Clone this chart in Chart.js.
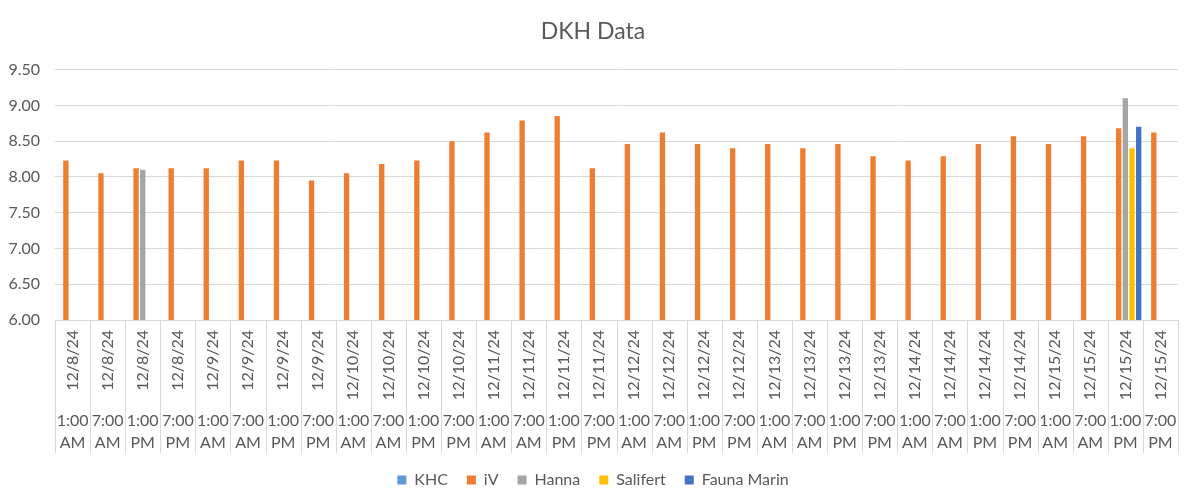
<!DOCTYPE html>
<html lang="en">
<head>
    <meta charset="UTF-8">
    <title>DKH Data</title>
    <script src="https://cdn.jsdelivr.net/npm/chart.js"></script>
    <style>
        html, body { margin: 0; padding: 0; background: #ffffff; }
        #wrap { width: 1200px; height: 504px; }
    </style>
</head>
<body>
    <div id="wrap"><canvas id="dkhChart"></canvas></div>

    <script>
        // category labels (two-level axis: date / time)
        const dateLabels = [
            '12/8/24', '12/8/24', '12/8/24', '12/8/24',
            '12/9/24', '12/9/24', '12/9/24', '12/9/24',
            '12/10/24', '12/10/24', '12/10/24', '12/10/24',
            '12/11/24', '12/11/24', '12/11/24', '12/11/24',
            '12/12/24', '12/12/24', '12/12/24', '12/12/24',
            '12/13/24', '12/13/24', '12/13/24', '12/13/24',
            '12/14/24', '12/14/24', '12/14/24', '12/14/24',
            '12/15/24', '12/15/24', '12/15/24', '12/15/24'
        ];
        const timeOfDay = [['1:00', 'AM'], ['7:00', 'AM'], ['1:00', 'PM'], ['7:00', 'PM']];
        const timeLabels = dateLabels.map((d, i) => timeOfDay[i % 4]);

        const yTicks = [6.0, 6.5, 7.0, 7.5, 8.0, 8.5, 9.0, 9.5];

        // series values
        const khc = dateLabels.map(() => null);
        const iv = [
            8.23, 8.05, 8.12, 8.12,
            8.12, 8.23, 8.23, 7.95,
            8.05, 8.18, 8.23, 8.50,
            8.62, 8.79, 8.85, 8.12,
            8.46, 8.62, 8.46, 8.40,
            8.46, 8.40, 8.46, 8.29,
            8.23, 8.29, 8.46, 8.57,
            8.46, 8.57, 8.68, 8.62
        ];
        const hanna = dateLabels.map(() => null);
        hanna[2] = 8.10;
        hanna[30] = 9.10;
        const salifert = dateLabels.map(() => null);
        salifert[30] = 8.40;
        const faunaMarin = dateLabels.map(() => null);
        faunaMarin[30] = 8.70;

        const textColor = '#595959';
        const lineColor = '#d9d9d9';
        const fontFamily = 'Lato, "Open Sans", sans-serif';

        // boxes round the category labels, like a multi-level axis
        const categoryBoxes = {
            id: 'categoryBoxes',
            afterDraw(chart) {
                const x = chart.scales.x;
                const x2 = chart.scales.x2;
                const half = (x.getPixelForValue(1) - x.getPixelForValue(0)) / 2;
                const ctx = chart.ctx;
                ctx.save();
                ctx.strokeStyle = lineColor;
                ctx.lineWidth = 1;
                ctx.beginPath();
                for (let i = 0; i <= dateLabels.length; i++) {
                    const px = Math.round(x.getPixelForValue(i) - half) + 0.5;
                    ctx.moveTo(px, chart.chartArea.bottom);
                    ctx.lineTo(px, x2.bottom);
                }
                ctx.stroke();
                ctx.restore();
            }
        };

        // fixed heights for the two label rows, no side padding
        function fixHeight(h) {
            return function(scale) {
                scale.height = h;
                scale.paddingLeft = 0;
                scale.paddingRight = 0;
            };
        }

        new Chart(document.getElementById('dkhChart'), {
            type: 'bar',
            data: {
                labels: dateLabels,
                datasets: [
                    { label: 'KHC', data: khc, backgroundColor: '#5b9bd5' },
                    { label: 'iV', data: iv, backgroundColor: '#ed7d31' },
                    { label: 'Hanna', data: hanna, backgroundColor: '#a5a5a5' },
                    { label: 'Salifert', data: salifert, backgroundColor: '#ffc000' },
                    { label: 'Fauna Marin', data: faunaMarin, backgroundColor: '#4472c4' }
                ]
            },
            options: {
                responsive: true,
                maintainAspectRatio: false,
                animation: false,
                datasets: {
                    bar: { categoryPercentage: 0.95, barPercentage: 0.8 }
                },
                layout: { padding: { left: 8, right: 22, top: 0, bottom: 6 } },
                plugins: {
                    title: {
                        display: true,
                        text: 'DKH Data',
                        color: textColor,
                        font: { family: fontFamily, size: 23, weight: 'normal' },
                        padding: { top: 18, bottom: 24 }
                    },
                    legend: {
                        position: 'bottom',
                        labels: {
                            color: textColor,
                            font: { family: fontFamily, size: 16 },
                            boxWidth: 9,
                            boxHeight: 9,
                            padding: 19
                        }
                    },
                    tooltip: { enabled: false }
                },
                scales: {
                    x: {
                        type: 'category',
                        offset: true,
                        grid: { display: false, drawTicks: false },
                        border: { display: true, color: lineColor },
                        afterFit: fixHeight(85),
                        ticks: {
                            autoSkip: false,
                            minRotation: 90,
                            maxRotation: 90,
                            padding: 10,
                            color: textColor,
                            font: { family: fontFamily, size: 16 }
                        }
                    },
                    x2: {
                        type: 'category',
                        position: 'bottom',
                        labels: timeLabels,
                        offset: true,
                        grid: { display: false, drawTicks: false },
                        border: { display: false },
                        afterFit: fixHeight(48),
                        ticks: {
                            autoSkip: false,
                            maxRotation: 0,
                            minRotation: 0,
                            padding: 5,
                            color: textColor,
                            font: { family: fontFamily, size: 16, lineHeight: 1.375 }
                        }
                    },
                    y: {
                        min: yTicks[0],
                        max: yTicks[yTicks.length - 1],
                        afterBuildTicks(scale) {
                            scale.ticks = yTicks.map(v => ({ value: v }));
                        },
                        afterFit(scale) {
                            scale.width = 47;
                        },
                        grid: { color: lineColor, drawTicks: false },
                        border: { display: false },
                        ticks: {
                            padding: 15,
                            color: textColor,
                            font: { family: fontFamily, size: 16 },
                            callback: v => Number(v).toFixed(2)
                        }
                    }
                }
            },
            plugins: [categoryBoxes]
        });
    </script>
</body>
</html>
